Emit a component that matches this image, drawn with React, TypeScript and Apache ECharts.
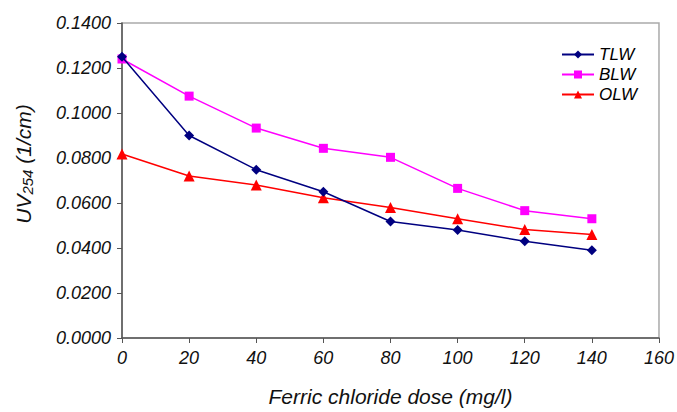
import React, { useEffect, useRef } from "react";
import * as echarts from "echarts";

const doses = [0, 20, 40, 60, 80, 100, 120, 140];
const tlw = [0.125, 0.09, 0.0748, 0.065, 0.0518, 0.048, 0.043, 0.039];
const blw = [0.124, 0.1075, 0.0933, 0.0843, 0.0803, 0.0665, 0.0566, 0.053];
const olw = [0.0818, 0.072, 0.068, 0.0623, 0.058, 0.053, 0.0482, 0.046];
const seriesNames = ["TLW", "BLW", "OLW"];
const seriesColors = ["#000080", "#FF00FF", "#FF0000"];
const seriesSymbols = ["diamond", "rect", "triangle"];

const FONT = "Liberation Sans, Arial, sans-serif";

export default function App() {
  const ref = useRef<HTMLDivElement>(null);
  useEffect(() => {
    document.body.style.margin = "0";
    document.body.style.overflow = "hidden";
    if (!ref.current) return;
    const chart = echarts.init(ref.current, null, { renderer: "svg" });
    const datas = [tlw, blw, olw];
    chart.setOption({
      animation: false,
      backgroundColor: "#ffffff",
      textStyle: { fontFamily: FONT },
      grid: { left: 122, right: 18, top: 23, bottom: 70, show: true, borderColor: "#aaaaaa", borderWidth: 1.5 },
      legend: {
        orient: "vertical",
        left: 561,
        top: 46,
        padding: 0,
        itemWidth: 32,
        itemHeight: 10,
        itemGap: 3,
        textStyle: { fontFamily: FONT, fontStyle: "italic", fontSize: 17, color: "#000" },
        data: seriesNames,
      },
      xAxis: {
        type: "value",
        min: 0,
        max: 160,
        interval: 20,
        axisLine: { show: true, lineStyle: { color: "#555", width: 1.5 } },
        axisTick: { show: true, length: 5, lineStyle: { color: "#555" } },
        splitLine: { show: false },
        axisLabel: { fontFamily: FONT, fontStyle: "italic", fontSize: 18, color: "#111", margin: 11 },
        name: "Ferric chloride dose (mg/l)",
        nameLocation: "middle",
        nameGap: 48,
        nameTextStyle: { fontFamily: FONT, fontStyle: "italic", fontSize: 21, color: "#111" },
      },
      yAxis: {
        type: "value",
        min: 0,
        max: 0.14,
        interval: 0.02,
        axisLine: { show: true, lineStyle: { color: "#555", width: 1.5 } },
        axisTick: { show: true, length: 5, lineStyle: { color: "#555" } },
        splitLine: { show: false },
        axisLabel: {
          fontFamily: FONT,
          fontStyle: "italic",
          fontSize: 18,
          color: "#111",
          margin: 11,
          formatter: (v: number) => v.toFixed(4),
        },
      },
      graphic: [
        {
          type: "text",
          x: 11,
          y: 164,
          rotation: Math.PI / 2,
          style: {
            text: "{a|UV}{b|254}{a| (1/cm)}",
            align: "center",
            verticalAlign: "top",
            fill: "#111",
            rich: {
              a: { fontFamily: FONT, fontStyle: "italic", fontSize: 21, fill: "#111" },
              b: { fontFamily: FONT, fontStyle: "italic", fontSize: 15, fill: "#111", padding: [9, 0, 0, 0] },
            },
          },
        },
      ],
      series: seriesNames.map((name, i) => ({
        name,
        type: "line",
        data: doses.map((d, j) => [d, datas[i][j]]),
        symbol: seriesSymbols[i],
        symbolSize: i === 0 ? 10 : i === 1 ? 9 : 11,
        showSymbol: true,
        lineStyle: { color: seriesColors[i], width: 1.5 },
        itemStyle: { color: seriesColors[i] },
        z: 3 - i,
      })),
    });
    return () => chart.dispose();
  }, []);
  return <div ref={ref} style={{ width: 677, height: 412, position: "fixed", left: 0, top: 0 }} />;
}
